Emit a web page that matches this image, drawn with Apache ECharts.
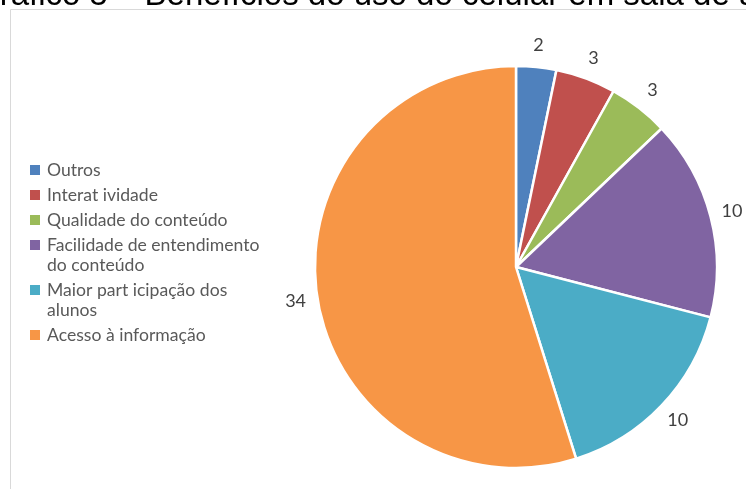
<!DOCTYPE html>
<html>
<head>
<meta charset="utf-8">
<script src="https://cdn.jsdelivr.net/npm/echarts@6/dist/echarts.min.js"></script>
<style>
  html, body { margin: 0; padding: 0; background: #fff; }
  #chart { width: 746px; height: 489px; }
</style>
</head>
<body>
<div id="chart"></div>
<script>
  var titleText = 'Gráfico 5 – Benefícios do uso do celular em sala de aula'
  var categories = [
    'Outros',
    'Interat ividade',
    'Qualidade do conteúdo',
    'Facilidade de entendimento\ndo conteúdo',
    'Maior part icipação dos\nalunos',
    'Acesso à informação'
  ]
  var values = [2, 3, 3, 10, 10, 34]
  var colors = ['#4F81BD', '#C0504D', '#9BBB59', '#8064A2', '#4BACC6', '#F79646']

  var chart = echarts.init(document.getElementById('chart'), null, { renderer: 'canvas' })

  // legend drawn by hand so the marker sits on the first line of wrapped names
  var legendItems = []
  var ly = 170
  categories.forEach(function (name, i) {
    var lines = name.split('\n').length
    legendItems.push({
      type: 'rect',
      shape: { x: 30, y: ly - 5, width: 10, height: 10 },
      style: { fill: colors[i] }
    })
    legendItems.push({
      type: 'text',
      x: 47,
      y: ly - 10,
      style: {
        text: name,
        fill: '#595959',
        font: '17.6px Lato',
        lineHeight: 20,
        verticalAlign: 'top'
      }
    })
    ly += 25 + 20 * (lines - 1)
  })

  var option = {
    animation: false,
    color: colors,
    graphic: [
      {
        type: 'text',
        x: -26,
        y: -4,
        style: {
          text: titleText,
          fill: '#000',
          font: '33px "Liberation Sans", Arial',
          verticalAlign: 'middle'
        }
      },
      {
        type: 'rect',
        shape: { x: 10.5, y: 9.5, width: 800, height: 600 },
        style: { fill: 'none', stroke: '#d9d9d9', lineWidth: 1 }
      }
    ].concat(legendItems),
    series: [{
      type: 'pie',
      center: [516, 267],
      radius: 201,
      startAngle: 90,
      clockwise: true,
      avoidLabelOverlap: false,
      itemStyle: {
        borderColor: '#fff',
        borderWidth: 2.5
      },
      label: {
        show: true,
        position: 'outside',
        formatter: '{v|{c}}',
        distanceToLabelLine: -15,
        rich: {
          v: {
            width: 30,
            align: 'center',
            fontSize: 18,
            fontFamily: 'Lato',
            color: '#404040'
          }
        }
      },
      labelLine: {
        show: false,
        length: 22,
        length2: 0
      },
      emphasis: { disabled: true },
      data: categories.map(function (name, i) {
        return { name: name, value: values[i] }
      })
    }]
  }
  chart.setOption(option)
</script>
</body>
</html>
